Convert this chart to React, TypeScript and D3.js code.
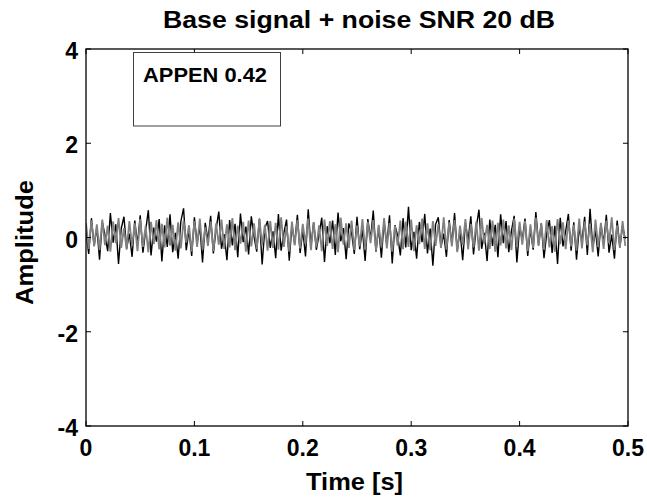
import * as d3 from "d3";

// sample spacing of both traces (s)
const SAMPLE_STEP = 0.0025;

const X_TICKS = [0, 0.1, 0.2, 0.3, 0.4, 0.5];
const Y_TICKS = [-4, -2, 0, 2, 4];

// noisy signal (black)
const NOISY = [
  0.12, -0.35, 0.41, -0.18, 0.22, -0.47, 0.33, 0.05, -0.29, 0.52,
  -0.11, 0.28, -0.56, 0.19, 0.44, -0.23, 0.08, -0.41, 0.36, -0.15,
  0.47, -0.32, 0.14, 0.58, -0.38, 0.21, -0.09, 0.39, -0.51, 0.26,
  -0.2, 0.49, -0.31, 0.1, -0.45, 0.34, 0.62, -0.27, 0.16, -0.39,
  0.43, -0.13, 0.25, -0.53, 0.31, -0.06, 0.46, -0.34, 0.18, 0.55,
  -0.24, 0.07, -0.48, 0.37, -0.17, 0.29, -0.42, 0.51, -0.1, 0.23,
  -0.36, 0.45, 0.02, -0.3, 0.4, -0.57, 0.2, 0.35, -0.22, 0.13,
  -0.44, 0.5, -0.28, 0.09, 0.38, -0.49, 0.27, -0.14, 0.48, -0.33,
  0.15, -0.4, 0.6, -0.19, 0.32, -0.26, 0.06, 0.42, -0.52, 0.24,
  -0.12, 0.36, -0.37, 0.53, -0.08, 0.2, -0.46, 0.3, 0.11, -0.35,
  0.44, -0.25, 0.17, -0.5, 0.39, -0.04, 0.57, -0.3, 0.22, -0.43,
  0.34, -0.16, 0.47, -0.55, 0.26, 0.04, -0.38, 0.41, -0.21, 0.65,
  -0.27, 0.12, -0.45, 0.33, -0.1, 0.5, -0.34, 0.19, -0.6, 0.28,
  0.43, -0.2, 0.08, -0.41, 0.37, -0.14, 0.52, -0.29, 0.16, -0.48,
  0.31, -0.07, 0.45, -0.36, 0.21, 0.59, -0.24, 0.1, -0.5, 0.38,
  -0.18, 0.27, -0.42, 0.49, -0.12, 0.35, -0.31, 0.14, 0.46, -0.53,
  0.23, -0.05, 0.4, -0.39, 0.18, -0.26, 0.54, -0.15, 0.3, -0.44,
  0.09, 0.37, -0.33, 0.25, -0.56, 0.42, -0.19, 0.13, 0.5, -0.28,
  0.32, -0.47, 0.2, -0.09, 0.44, -0.37, 0.61, -0.22, 0.15, -0.4,
  0.29, -0.13, 0.48, -0.32, 0.06, -0.45, 0.36, -0.2, 0.24, -0.03,
];

// base signal (gray)
const BASE = [
  0.31, -0.24, 0.36, -0.19, 0.28, -0.27, 0.38, -0.16, 0.25, -0.3,
  0.34, -0.12, 0.41, -0.22, 0.2, -0.26, 0.35, -0.18, 0.3, -0.29,
  0.39, -0.2, 0.24, -0.31, 0.33, -0.14, 0.37, -0.25, 0.29, -0.21,
  0.42, -0.17, 0.27, -0.28, 0.32, -0.23, 0.36, -0.11, 0.26, -0.3,
  0.35, -0.2, 0.4, -0.26, 0.22, -0.18, 0.34, -0.29, 0.3, -0.15,
  0.38, -0.24, 0.28, -0.21, 0.41, -0.27, 0.25, -0.13, 0.33, -0.3,
  0.36, -0.19, 0.3, -0.25, 0.39, -0.16, 0.27, -0.28, 0.35, -0.22,
  0.31, -0.26, 0.43, -0.2, 0.24, -0.3, 0.34, -0.17, 0.37, -0.23,
  0.29, -0.14, 0.4, -0.27, 0.32, -0.21, 0.26, -0.29, 0.38, -0.18,
  0.35, -0.24, 0.28, -0.31, 0.42, -0.15, 0.3, -0.22, 0.36, -0.27,
  0.25, -0.19, 0.39, -0.26, 0.33, -0.12, 0.37, -0.28, 0.27, -0.21,
  0.41, -0.23, 0.31, -0.3, 0.24, -0.17, 0.36, -0.25, 0.34, -0.2,
  0.38, -0.29, 0.26, -0.14, 0.4, -0.24, 0.3, -0.27, 0.35, -0.18,
  0.28, -0.22, 0.43, -0.26, 0.32, -0.19, 0.37, -0.31, 0.25, -0.16,
  0.39, -0.25, 0.29, -0.21, 0.34, -0.28, 0.41, -0.13, 0.27, -0.24,
  0.36, -0.3, 0.31, -0.17, 0.38, -0.23, 0.26, -0.27, 0.4, -0.2,
  0.33, -0.15, 0.35, -0.29, 0.28, -0.22, 0.42, -0.18, 0.3, -0.26,
  0.37, -0.21, 0.24, -0.3, 0.39, -0.14, 0.32, -0.25, 0.36, -0.19,
  0.27, -0.28, 0.4, -0.23, 0.34, -0.17, 0.29, -0.31, 0.38, -0.2,
  0.31, -0.24, 0.36, -0.12, 0.43, -0.27, 0.26, -0.22, 0.35, -0.18,
];

const LEGEND_TEXT = "APPEN 0.42";

const FONT = "'Liberation Sans', Arial, Helvetica, sans-serif";

export default function App() {
  const width = 647;
  const height = 499;
  const margin = { top: 49, right: 19, bottom: 73, left: 86 };
  const x0 = margin.left;
  const x1 = width - margin.right;
  const y0 = margin.top;
  const y1 = height - margin.bottom;

  const xScale = d3.scaleLinear().domain([0, 0.5]).range([x0, x1]);
  const yScale = d3.scaleLinear().domain([-4, 4]).range([y1, y0]);

  const line = d3
    .line<number>()
    .x((_, i) => xScale(i * SAMPLE_STEP))
    .y((d) => yScale(d));

  const tickLen = 5;

  return (
    <svg
      width={width}
      height={height}
      style={{ position: "absolute", left: 0, top: 0, background: "#fff" }}
      fontFamily={FONT}
      fontWeight="bold"
    >
      <defs>
        <clipPath id="plot-clip">
          <rect x={x0} y={y0} width={x1 - x0} height={y1 - y0} />
        </clipPath>
      </defs>

      <g clipPath="url(#plot-clip)">
        <path d={line(NOISY) ?? ""} fill="none" stroke="#000" strokeWidth={1.4} />
        <path d={line(BASE) ?? ""} fill="none" stroke="#808080" strokeWidth={1.8} />
      </g>

      {/* axes box */}
      <rect x={x0} y={y0} width={x1 - x0} height={y1 - y0} fill="none" stroke="#000" strokeWidth={1.3} />

      {X_TICKS.map((t) => (
        <g key={`x${t}`}>
          <line x1={xScale(t)} x2={xScale(t)} y1={y1} y2={y1 - tickLen} stroke="#000" />
          <line x1={xScale(t)} x2={xScale(t)} y1={y0} y2={y0 + tickLen} stroke="#000" />
          <text x={xScale(t)} y={y1 + 30} textAnchor="middle" fontSize={23}>
            {String(t)}
          </text>
        </g>
      ))}

      {Y_TICKS.map((t) => (
        <g key={`y${t}`}>
          <line x1={x0} x2={x0 + tickLen} y1={yScale(t)} y2={yScale(t)} stroke="#000" />
          <line x1={x1} x2={x1 - tickLen} y1={yScale(t)} y2={yScale(t)} stroke="#000" />
          <text x={x0 - 8} y={yScale(t) + 10} textAnchor="end" fontSize={23}>
            {String(t)}
          </text>
        </g>
      ))}

      {/* legend */}
      <rect x={133.5} y={52.5} width={147} height={73.5} fill="#fff" stroke="#404040" strokeWidth={1} />
      <text x={205} y={82} textAnchor="middle" fontSize={21} textLength={124} lengthAdjust="spacingAndGlyphs">
        {LEGEND_TEXT}
      </text>

      <text x={359} y={28} textAnchor="middle" fontSize={23} textLength={392} lengthAdjust="spacingAndGlyphs">
        Base signal + noise SNR 20 dB
      </text>
      <text x={354.5} y={490} textAnchor="middle" fontSize={23} textLength={97} lengthAdjust="spacingAndGlyphs">
        Time [s]
      </text>
      <text
        transform={`translate(33, 242.5) rotate(-90)`}
        textAnchor="middle"
        fontSize={23}
        textLength={125}
        lengthAdjust="spacingAndGlyphs"
      >
        Amplitude
      </text>
    </svg>
  );
}
